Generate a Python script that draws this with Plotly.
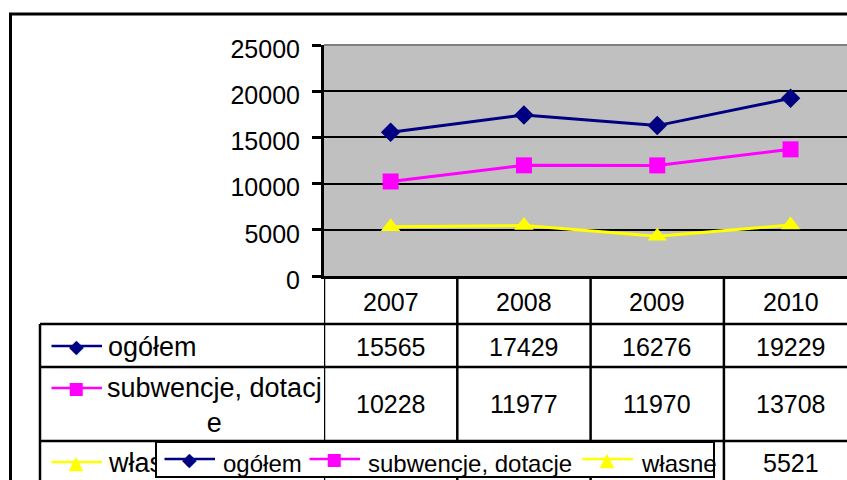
import plotly.graph_objects as go

# ---------------- data ----------------
years = ["2007", "2008", "2009", "2010"]
ogolem = [15565, 17429, 16276, 19229]
subwencje = [10228, 11977, 11970, 13708]
wlasne = [5337, 5452, 4306, 5521]
series_names = ["ogółem", "subwencje, dotacje", "własne"]
table_labels = ["ogółem", "subwencje, dotacj<br>e", "własne"]
y_ticks = [0, 5000, 10000, 15000, 20000, 25000]

# ---------------- layout geometry ----------------
W, H = 847, 480
L, T, B = 324, 45, 276           # plot area left / top / bottom in px
COL = 133.3                      # category width in px
FONT = "Liberation Sans, Arial, sans-serif"


def X(px):
    return (px - L) / (W - L)


def Y(py):
    return (B - py) / (B - T)


colors = ["#000080", "#FF00FF", "#FFFF00"]
symbols = ["diamond", "square", "triangle-up"]
msizes = [15, 16, 17]
glyphs = ["\u25C6", "\u25A0", "\u25B2"]
gsizes = [19, 17, 19]
series = [ogolem, subwencje, wlasne]

fig = go.Figure()
for name, vals, c, s, sz in zip(series_names, series, colors, symbols, msizes):
    fig.add_trace(go.Scatter(
        x=years, y=vals, name=name, mode="lines+markers",
        line=dict(color=c, width=3),
        marker=dict(symbol=s, size=sz, color=c, line=dict(width=0)),
        showlegend=False, cliponaxis=False,
    ))

shapes = []
blk = dict(color="black", width=3)
# outer chart border
shapes.append(dict(type="line", xref="paper", yref="paper", x0=X(10.5), x1=X(10.5), y0=Y(14), y1=Y(482), line=blk))
shapes.append(dict(type="line", xref="paper", yref="paper", x0=X(9), x1=X(850), y0=Y(14), y1=Y(14), line=blk))
# gray top edge of plot area
shapes.append(dict(type="line", xref="paper", yref="paper", x0=0, x1=1, y0=1, y1=1,
                   line=dict(color="#808080", width=2), layer="above"))
# table vertical lines at category boundaries
for b in [-0.5, 0.5, 1.5, 2.5]:
    shapes.append(dict(type="line", xref="x", yref="paper", x0=b, x1=b, y0=Y(276), y1=Y(482),
                       line=dict(color="black", width=2.5)))
# table left border
shapes.append(dict(type="line", xref="paper", yref="paper", x0=X(40), x1=X(40), y0=Y(324), y1=Y(482),
                   line=dict(color="black", width=2.5)))
# table horizontal lines
for py in [324, 367, 441]:
    shapes.append(dict(type="line", xref="paper", yref="paper", x0=X(40), x1=X(850), y0=Y(py), y1=Y(py),
                       line=dict(color="black", width=2.5)))

anns = []
tfont = dict(family=FONT, size=25, color="black")

# header years
for i, yr in enumerate(years):
    anns.append(dict(xref="x", yref="paper", x=i, y=Y(302), text=yr, showarrow=False,
                     font=tfont, xanchor="center", yanchor="middle"))

# table values
row_y = [347, 404, 463]
for r, vals in enumerate(series):
    for i, v in enumerate(vals):
        anns.append(dict(xref="x", yref="paper", x=i, y=Y(row_y[r]), text=str(v), showarrow=False,
                         font=tfont, xanchor="center", yanchor="middle"))


def key(xc, yc, color, glyph, gsize, half=26):
    anns.append(dict(xref="paper", yref="paper", x=X(xc + half), y=Y(yc), ax=-2 * half, ay=0,
                     axref="pixel", ayref="pixel", showarrow=True, arrowhead=0, arrowwidth=2.5,
                     arrowcolor=color, text=" ", font=dict(size=1), standoff=0, startstandoff=0))
    anns.append(dict(xref="paper", yref="paper", x=X(xc), y=Y(yc), text=glyph, showarrow=False,
                     font=dict(family="DejaVu Sans", size=gsize, color=color),
                     xanchor="center", yanchor="middle"))


# table row labels
key_y = [346, 388, 462]
for r in range(3):
    key(76, key_y[r], colors[r], glyphs[r], gsizes[r])
lfont = dict(family=FONT, size=27, color="black")
anns.append(dict(xref="paper", yref="paper", x=X(106), y=Y(347), text=table_labels[0], showarrow=False,
                 font=lfont, xanchor="left", yanchor="middle"))
anns.append(dict(xref="paper", yref="paper", x=X(214), y=Y(405), text=table_labels[1], showarrow=False,
                 font=lfont, xanchor="center", yanchor="middle", align="center"))
anns.append(dict(xref="paper", yref="paper", x=X(106), y=Y(463), text=table_labels[2], showarrow=False,
                 font=lfont, xanchor="left", yanchor="middle"))

# legend box (drawn over the table)
anns.append(dict(xref="paper", yref="paper", x=X(155), y=Y(441), xanchor="left", yanchor="top",
                 text=" ", showarrow=False, width=556, height=33, bgcolor="white",
                 bordercolor="black", borderwidth=2, borderpad=0))
gfont = dict(family=FONT, size=24, color="black")
leg_key_x = [189, 334, 607]
leg_txt_x = [221, 366, 639]
for r in range(3):
    key(leg_key_x[r], 459, colors[r], glyphs[r], gsizes[r])
    anns.append(dict(xref="paper", yref="paper", x=X(leg_txt_x[r]), y=Y(463), text=series_names[r],
                     showarrow=False, font=gfont, xanchor="left", yanchor="middle"))

fig.update_layout(
    width=W, height=H,
    margin=dict(l=L, r=0, t=T, b=H - B, pad=0),
    paper_bgcolor="white", plot_bgcolor="#C0C0C0",
    showlegend=False,
    xaxis=dict(type="category", range=[-0.5, -0.5 + (W - L) / COL], showticklabels=False,
               showgrid=False, zeroline=False, showline=True, linecolor="black", linewidth=3,
               ticks=""),
    yaxis=dict(range=[0, 25000], tickvals=y_ticks, tickformat="d", showgrid=True, gridcolor="black",
               gridwidth=2, zeroline=False, showline=True, linecolor="black", linewidth=3,
               ticks="outside", ticklen=9, tickwidth=3, tickcolor="black",
               tickfont=dict(family=FONT, size=25, color="black"),
               ticklabelstandoff=7, ticklabelshift=4),
    shapes=shapes, annotations=anns,
)

fig.write_html("out.html", config={"displayModeBar": False},
               post_script="document.body.style.margin='0px';document.body.style.overflow='hidden';")
